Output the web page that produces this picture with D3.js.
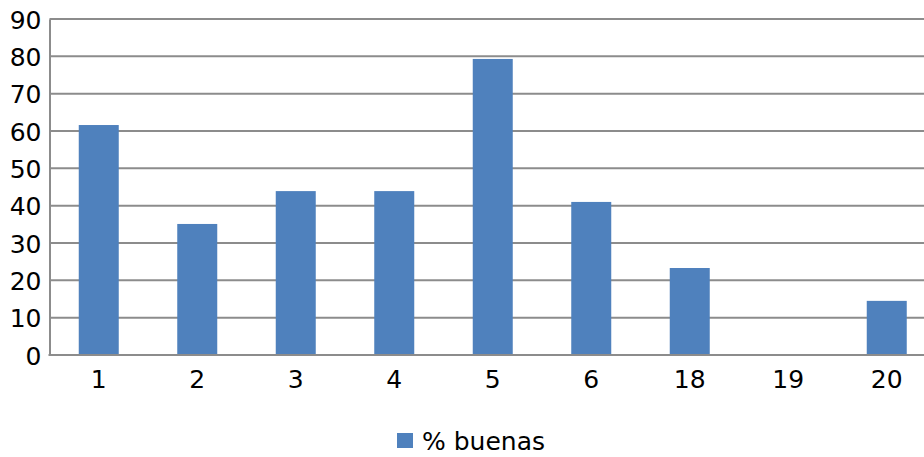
<!DOCTYPE html>
<html>
<head>
<meta charset="utf-8">
<script src="https://cdn.jsdelivr.net/npm/d3@7/dist/d3.min.js"></script>
<style>
  body { margin: 0; background: #fff; }
  svg { display: block; }
  svg text { font-family: "DejaVu Sans", sans-serif; }
</style>
</head>
<body>
<div class="viz"></div>
<script>
// chart data
const categories = ["1", "2", "3", "4", "5", "6", "18", "19", "20"];
const buenas = [61.6, 35.1, 43.9, 43.9, 79.3, 41.0, 23.3, 0, 14.5];
const yTicks = [0, 10, 20, 30, 40, 50, 60, 70, 80, 90];
const seriesName = "% buenas";

const width = 924;
const height = 457;
const margin = { top: 19, left: 49.5, bottom: 102 };
const step = 98.5;
const barColor = "#4f81bd";
const gridColor = "#8c8c8c";
const fontSize = "25px";

const svg = d3.select(".viz")
    .append("svg")
    .attr("width", width)
    .attr("height", height);

// x runs past the right edge, like the original
const x = d3.scaleBand()
    .domain(categories)
    .range([margin.left, margin.left + step * categories.length])
    .padding(0);

const y = d3.scaleLinear()
    .domain([0, 90])
    .range([height - margin.bottom, margin.top]);

// gridlines
svg.selectAll(".grid")
    .data(yTicks)
    .enter()
    .append("line")
    .attr("class", "grid")
    .attr("x1", margin.left)
    .attr("x2", width)
    .attr("y1", d => y(d))
    .attr("y2", d => y(d))
    .style("stroke", gridColor)
    .style("stroke-width", 2);

// bars
const barW = 40;
svg.selectAll(".bar")
    .data(buenas)
    .enter()
    .append("rect")
    .attr("class", "bar")
    .attr("x", (d, i) => x(categories[i]) + x.bandwidth() / 2 - barW / 2)
    .attr("y", d => y(d))
    .attr("width", barW)
    .attr("height", d => y(0) - y(d))
    .style("fill", barColor);

// y axis
const yAxis = svg.append("g")
    .attr("transform", `translate(${margin.left},0)`)
    .call(d3.axisLeft(y).tickValues(yTicks).tickSize(0).tickPadding(8));
yAxis.select(".domain").style("stroke", gridColor).style("stroke-width", 2);
yAxis.selectAll("text")
    .style("font-family", "DejaVu Sans")
    .style("font-size", fontSize)
    .style("fill", "#000")
    .attr("dy", "0.36em");

// x axis
const xAxis = svg.append("g")
    .attr("transform", `translate(0,${y(0)})`)
    .call(d3.axisBottom(x).tickSize(0).tickPadding(15));
xAxis.select(".domain").remove();
xAxis.selectAll("text")
    .style("font-family", "DejaVu Sans")
    .style("font-size", fontSize)
    .style("fill", "#000");

// baseline redrawn on top
svg.append("line")
    .attr("x1", margin.left - 1)
    .attr("x2", width)
    .attr("y1", y(0))
    .attr("y2", y(0))
    .style("stroke", gridColor)
    .style("stroke-width", 2);

// legend
const legend = svg.append("g").attr("transform", "translate(397,433)");
legend.append("rect")
    .attr("width", 16)
    .attr("height", 15)
    .style("fill", barColor);
legend.append("text")
    .attr("x", 25)
    .attr("y", 17)
    .style("font-size", fontSize)
    .style("fill", "#000")
    .text(seriesName);
</script>
</body>
</html>
